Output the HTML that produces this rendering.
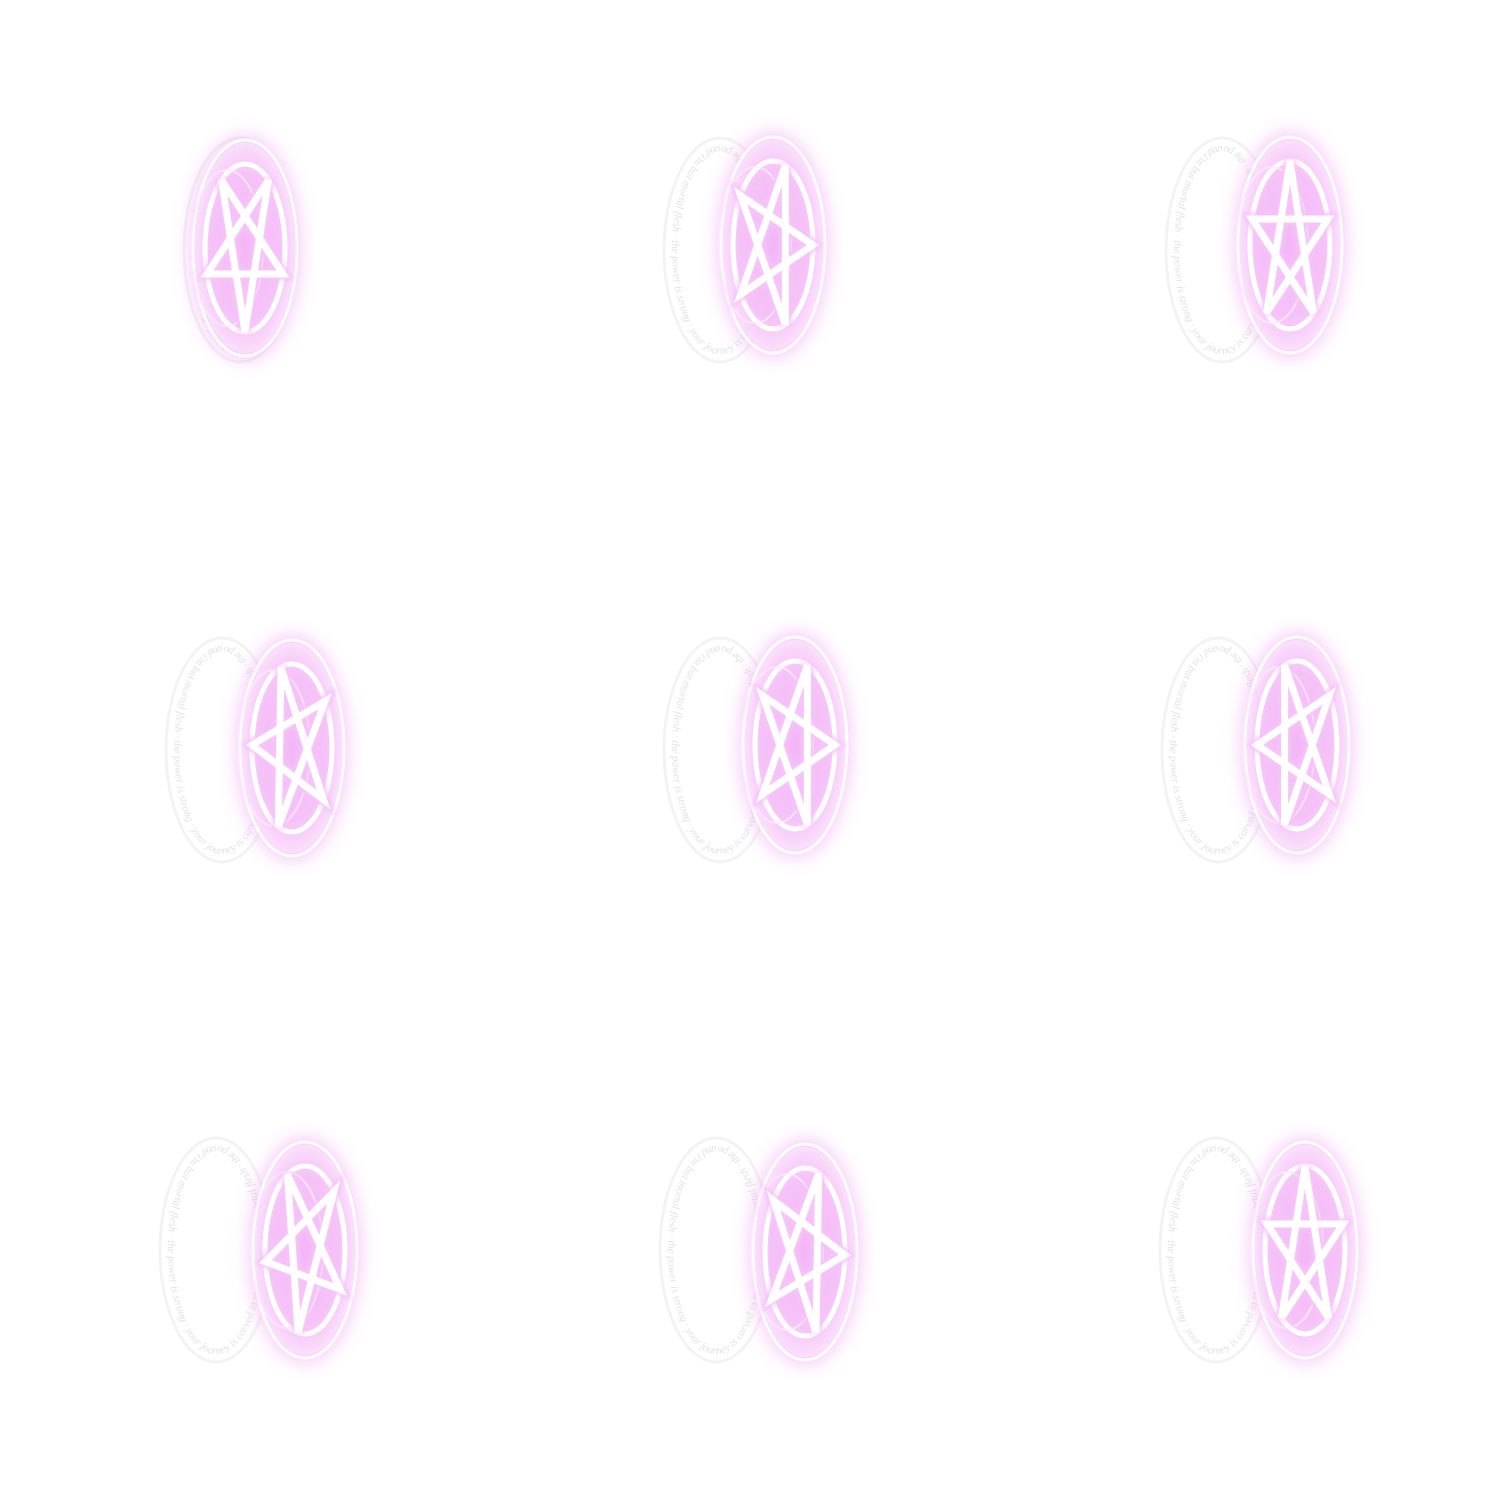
<!DOCTYPE html>
<html><head><meta charset="utf-8"><style>
html,body{margin:0;padding:0;background:#fff;width:1500px;height:1500px;overflow:hidden}
svg{display:block}
</style></head><body>
<svg id="sheet" width="1500" height="1500" viewBox="0 0 1500 1500" xmlns="http://www.w3.org/2000/svg">
<defs>
<filter id="glow" x="-50%" y="-50%" width="200%" height="200%"><feGaussianBlur stdDeviation="9"/></filter>
<filter id="soft" x="-50%" y="-50%" width="200%" height="200%"><feGaussianBlur stdDeviation="2.5"/></filter>
<radialGradient id="pinkfill" cx="50%" cy="50%" r="50%">
<stop offset="0" stop-color="#f2b2f6"/><stop offset="0.7" stop-color="#f5c2f8"/><stop offset="1" stop-color="#fbe3fc"/>
</radialGradient>
</defs>
</svg>
<script>
// frame data: ring centre, pink disc centre, star rotation
const ringX = [240, 720, 1222, 222, 720, 1218, 216, 716, 1216];
const ringY = [250, 250, 250, 750, 750, 750, 1250, 1250, 1250];
const discX = [245, 773, 1290, 292, 795, 1297, 305, 805, 1305];
const discY = [248, 245, 245, 748, 745, 745, 1250, 1252, 1250];
const starRot = [180, 90, 0, 200, 90, 270, 190, 20, 0];
const ringText = "and i'm but mortal flesh · the power is strong · your journey is carved in stone · ";

const NS = "http://www.w3.org/2000/svg";
const svg = document.getElementById('sheet');
function mk(tag, attrs){const e=document.createElementNS(NS,tag);for(const k in attrs)e.setAttribute(k,attrs[k]);return e;}

for(let i=0;i<ringX.length;i++){
  const g = mk('g',{});
  
  
  const rx=ringX[i], ry=ringY[i];
  const ring = mk('ellipse',{cx:rx,cy:ry,rx:56,ry:112,fill:'none',stroke:'#f3f3f3','stroke-width':3});
  
  
  g.appendChild(ring);
  const pid='rp'+i;
  const path = mk('path',{id:pid,fill:'none',d:`M ${rx} ${ry-104} A 48 104 0 1 0 ${rx} ${ry+104} A 48 104 0 1 0 ${rx} ${ry-104}`});
  g.appendChild(path);
  const t = mk('text',{'font-family':'Liberation Serif, serif','font-style':'italic','font-size':11,fill:'#e2e2e2'});
  
  
  const tp = mk('textPath',{href:'#'+pid});
  tp.textContent = ringText+ringText;
  t.appendChild(tp); g.appendChild(t);
  const cx=discX[i], cy=discY[i];
  const glow = mk('ellipse',{cx:cx,cy:cy,rx:55,ry:112,fill:'#f2a6f5',opacity:0.65,filter:'url(#glow)'});
  
  
  g.appendChild(glow);
  const disc = mk('ellipse',{cx:cx,cy:cy,rx:50,ry:105,fill:'url(#pinkfill)',opacity:0.8});
  g.appendChild(disc);
  const o1 = mk('ellipse',{cx:cx,cy:cy,rx:52,ry:108,fill:'none',stroke:'#fff','stroke-width':3,opacity:0.9});
  
  
  g.appendChild(o1);
  const o2 = mk('ellipse',{cx:cx,cy:cy,rx:40,ry:84,fill:'none',stroke:'#fff','stroke-width':5});
  g.appendChild(o2);
  const o3 = mk('ellipse',{cx:cx-18,cy:cy,rx:36,ry:78,fill:'none',stroke:'#fde8fd','stroke-width':2,opacity:0.8});
  g.appendChild(o3);
  let pts=[];
  for(let k=0;k<5;k++){
    const a=(starRot[i]-90+k*144)*Math.PI/180;
    pts.push((cx+40*Math.cos(a)).toFixed(1)+','+(cy+84*Math.sin(a)).toFixed(1));
  }
  const starGlow = mk('polygon',{points:pts.join(' '),fill:'none',stroke:'#f6c4f8','stroke-width':12,'stroke-linejoin':'miter',filter:'url(#soft)'});
  g.appendChild(starGlow);
  const star = mk('polygon',{points:pts.join(' '),fill:'none',stroke:'#ffffff','stroke-width':7,'stroke-linejoin':'miter'});
  
  
  g.appendChild(star);
  svg.appendChild(g);
}
</script>
</body></html>
